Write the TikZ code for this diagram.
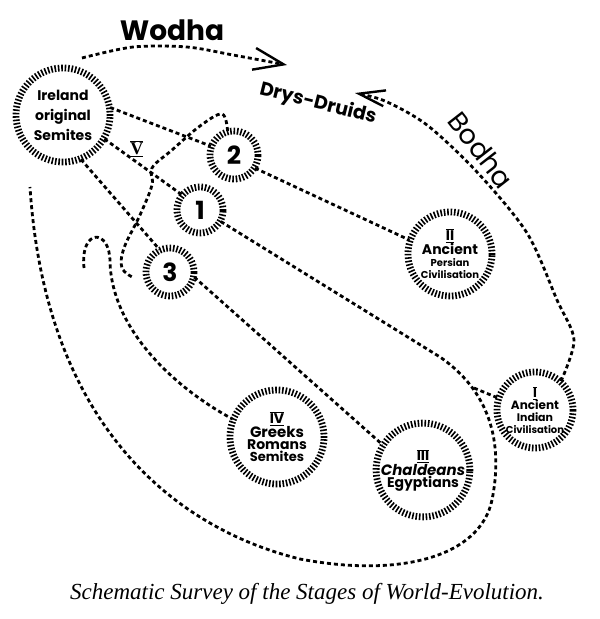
\documentclass[tikz,border=0pt]{standalone}
\usepackage{fontspec}
\setmainfont{Liberation Serif}
\newfontfamily\hand{Poppins}
\usetikzlibrary{decorations.pathreplacing,arrows.meta}
\newcommand\rnum[1]{$\overline{\underline{\mbox{\bfseries #1}}}$}

\begin{document}
\begin{tikzpicture}[x=1pt,y=-1pt,
  ring/.style={circle,draw,inner sep=0pt,align=center,line width=1.6pt,decorate,
    decoration={ticks,segment length=3.4pt,amplitude=3.4pt}},
  dots/.style={line width=2.8pt,dash pattern=on 4pt off 3pt},
  barb/.style 2 args={-{Straight Barb[length=#1,width=#2,line width=2.4pt]}}]
 \useasboundingbox (0,0) rectangle (600,619);
 \node[ring,minimum size=94pt,font=\hand\bfseries\fontsize{14}{20}\selectfont] (ire) at (63,115) {Ireland\\original\\Semites};
 \node[ring,minimum size=48pt,font=\hand\bfseries\fontsize{25}{25}\selectfont] (two) at (234,155) {2};
 \node[ring,minimum size=46pt,font=\hand\bfseries\fontsize{25}{25}\selectfont] (one) at (200,210) {1};
 \node[ring,minimum size=48pt,font=\hand\bfseries\fontsize{25}{25}\selectfont] (three) at (170,272) {3};
 \node[ring,minimum size=84pt,font=\hand\bfseries] (pers) at (450,254)
  {\fontsize{14}{13}\selectfont\rnum{II}\\\fontsize{14}{12}\selectfont Ancient\\\fontsize{10}{10}\selectfont Persian\\\fontsize{10}{10}\selectfont Civilisation};
 \node[ring,minimum size=76pt,font=\hand\bfseries] (ind) at (535,410)
  {\fontsize{13}{13}\selectfont\rnum{I}\\\fontsize{12}{12}\selectfont Ancient\\\fontsize{11}{12}\selectfont Indian\\\fontsize{10}{10}\selectfont Civilisation};
 \node[ring,minimum size=94pt,font=\hand\bfseries] (greek) at (277,437)
  {\fontsize{14}{15}\selectfont\rnum{IV}\\\fontsize{15}{15}\selectfont Greeks\\\fontsize{14}{14}\selectfont Romans\\\fontsize{13}{13}\selectfont Semites};
 \node[ring,minimum size=90pt,font=\hand\bfseries] (chald) at (423,470)
  {\fontsize{14}{17}\selectfont\rnum{III}\\\fontsize{15}{17}\selectfont\itshape Chaldeans\\\fontsize{14}{14}\selectfont Egyptians};
 \draw[dots] (ire.9) -- (two.159);
 \draw[dots] (two.-32) -- (pers.161);
 \draw[dots] (ire.-30) -- node[pos=0.42,above=1pt,font=\fontsize{18}{18}\selectfont] (five) {\rnum{V}} (one.140);
 \draw[dots] (ire.-68) -- (three.115);
 \draw[dots] (three.-12) -- (chald.148);
 \coordinate (hook) at (84,268);
 \draw[dots] (hook) .. controls (80,228) and (110,228) .. (110,262) .. controls (112,330) and (175,388) .. (greek.158);
 \coordinate (lend) at (30,187);
 \coordinate (fork) at (474,388);
 \draw[dots] (one.-29) -- (440,357) .. controls (495,395) and (502,450) .. (492,500)
  .. controls (480,557) and (400,578) .. (300,559) .. controls (170,527) and (45,420) .. (lend);
 \draw[dots] (fork) -- (ind.162);
 \draw[dots] plot[smooth,tension=0.6] coordinates {(two.105) (222,114) (200,126) (172,150) (152,168) (152,185) (140,215) (124,248) (122,268) (134,278)};
 \coordinate (wst) at (82,58);
 \coordinate (wtip) at (287,65);
 \draw[dots,barb={30pt}{22pt}] plot[smooth] coordinates {(wst) (133,47) (187,47) (233,55) (wtip)};
 \coordinate (btip) at (355,93);
 \draw[dots,barb={26pt}{16pt}] plot[smooth] coordinates {(ind.48) (574,340) (557,300) (527,233) (477,172) (427,125) (385,101) (btip)};
 \node[font=\hand\bfseries\fontsize{28}{30}\selectfont] (wodha) at (172,30) {Wodha};
 \node[font=\hand\fontsize{27}{30}\selectfont,rotate=-52] (bodha) at (481,150) {Bodha};
 \node[font=\hand\bfseries\fontsize{19}{21}\selectfont,rotate=-14] (drys) at (318,104) {Drys-Druids};
 \node[font=\itshape\fontsize{23}{26}\selectfont] (cap) at (307,594) {Schematic Survey of the Stages of World-Evolution.};
\end{tikzpicture}
\end{document}
